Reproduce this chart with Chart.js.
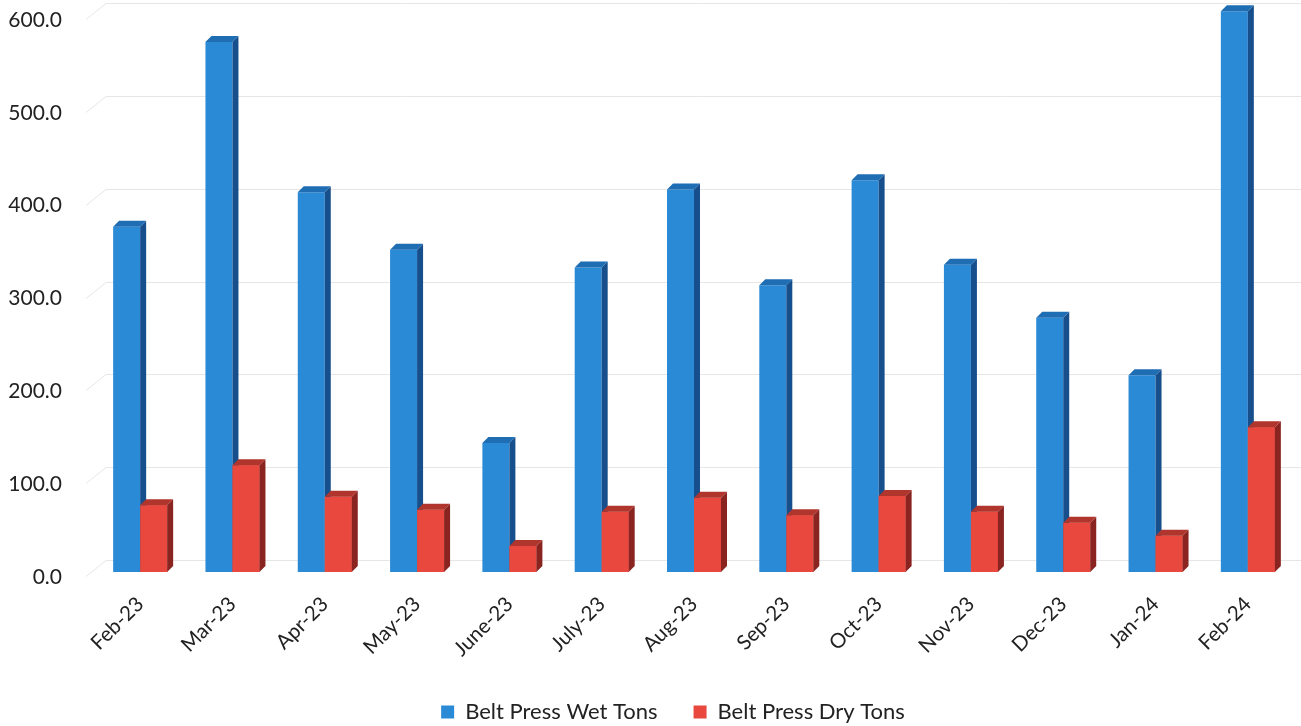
<!DOCTYPE html>
<html>
<head>
<meta charset="utf-8">
<script src="https://cdn.jsdelivr.net/npm/chart.js@4/dist/chart.umd.min.js"></script>
<style>
  html, body { margin: 0; padding: 0; background: #ffffff; }
  #wrap { width: 1301px; height: 726px; }
</style>
</head>
<body>
<div id="wrap"><canvas id="c" width="1301" height="726"></canvas></div>
<script>
const categories = ["Feb-23","Mar-23","Apr-23","May-23","June-23","July-23","Aug-23","Sep-23","Oct-23","Nov-23","Dec-23","Jan-24","Feb-24"];
const wetTons = [372, 571, 409, 347, 139, 328, 412, 309, 422, 331, 274, 212, 604];
const dryTons = [72, 115, 81, 67, 28, 65, 80, 61, 82, 65, 53, 39, 156];
const seriesNames = ["Belt Press Wet Tons", "Belt Press Dry Tons"];

const FONT = "Lato, 'Open Sans', sans-serif";
const blueFront = "#2b8ad6", blueSide = "#164f8c", blueTop = "#1f6db3";
const redFront = "#e8483e", redSide = "#8a2420", redTop = "#b0352c";

const depthX = 6, depthY = 6;
const LEGEND_PAD = 36;

function drawFaces(ctx, el, ds) {
  const p = el.getProps(["x","y","width","base"], true);
  const l = p.x - p.width / 2, r = p.x + p.width / 2;
  const top = p.y, base = p.base;
  ctx.fillStyle = ds.sideColor;
  ctx.beginPath();
  ctx.moveTo(r, top);
  ctx.lineTo(r + depthX, top - depthY);
  ctx.lineTo(r + depthX, base - depthY);
  ctx.lineTo(r, base);
  ctx.closePath();
  ctx.fill();
  ctx.fillStyle = ds.topColor;
  ctx.beginPath();
  ctx.moveTo(l, top);
  ctx.lineTo(l + depthX, top - depthY);
  ctx.lineTo(r + depthX, top - depthY);
  ctx.lineTo(r, top);
  ctx.closePath();
  ctx.fill();
}

const bar3d = {
  id: "bar3d",
  beforeLayout(chart) {
    const lg = chart.legend;
    if (lg && !lg._patched) {
      const f = lg.fit.bind(lg);
      lg.fit = function () { f(); this.height = 50; };
      lg._patched = true;
    }
  },
  afterLayout(chart) {
    const lg = chart.legend;
    if (lg) {
      lg.top = 712 - LEGEND_PAD - 11;
      lg.bottom = chart.height;
      lg.left += 26;
      lg.right += 26;
    }
  },
  beforeDatasetsDraw(chart) {
    const ctx = chart.ctx;
    const ys = chart.scales.y;
    const area = chart.chartArea;
    ctx.save();
    ctx.strokeStyle = "#e6e6e6";
    ctx.lineWidth = 1;
    ys.ticks.forEach(t => {
      const y = Math.round(ys.getPixelForValue(t.value)) + 0.5;
      ctx.beginPath();
      ctx.moveTo(area.left - 8, y + 4);
      ctx.lineTo(area.left + 12, y - 12);
      ctx.lineTo(chart.width, y - 12);
      ctx.stroke();
    });
    ctx.restore();
  },
  afterDatasetsDraw(chart) {
    const ctx = chart.ctx;
    ctx.save();
    chart.data.datasets.forEach((ds, i) => {
      const meta = chart.getDatasetMeta(i);
      meta.data.forEach(el => {
        if (i > 0) el.draw(ctx);
        drawFaces(ctx, el, ds);
      });
    });
    ctx.restore();
  }
};

new Chart(document.getElementById("c"), {
  type: "bar",
  data: {
    labels: categories,
    datasets: [
      { label: seriesNames[0], data: wetTons, backgroundColor: blueFront, sideColor: blueSide, topColor: blueTop, clip: false },
      { label: seriesNames[1], data: dryTons, backgroundColor: redFront, sideColor: redSide, topColor: redTop, clip: false }
    ]
  },
  plugins: [bar3d],
  options: {
    responsive: false,
    animation: false,
    layout: { padding: { top: 15, right: 7, left: 0, bottom: 0 } },
    datasets: { bar: { barPercentage: 1.0, categoryPercentage: 0.585, borderWidth: 0 } },
    scales: {
      x: {
        grid: { display: false, drawTicks: false },
        border: { display: false },
        afterFit: s => { s.height = 104; s.paddingLeft = 0; s.paddingRight = 0; },
        ticks: { font: { family: FONT, size: 20.5 }, color: "#222", maxRotation: 45, minRotation: 45, padding: 20 }
      },
      y: {
        min: 0, max: 600,
        grid: { display: false, drawTicks: false },
        border: { display: false },
        afterFit: s => { s.width = 94; s.paddingTop = 0; s.paddingBottom = 0; },
        ticks: {
          stepSize: 100,
          font: { family: FONT, size: 21 },
          color: "#222",
          padding: 32,
          labelOffset: 5,
          callback: v => Number(v).toFixed(1)
        }
      }
    },
    plugins: {
      tooltip: { enabled: false },
      legend: {
        position: "bottom",
        labels: {
          font: { family: FONT, size: 22 },
          color: "#222",
          boxWidth: 13, boxHeight: 13,
          padding: LEGEND_PAD,
          sort: (a, b) => a.datasetIndex - b.datasetIndex
        }
      }
    }
  }
});
</script>
</body>
</html>
